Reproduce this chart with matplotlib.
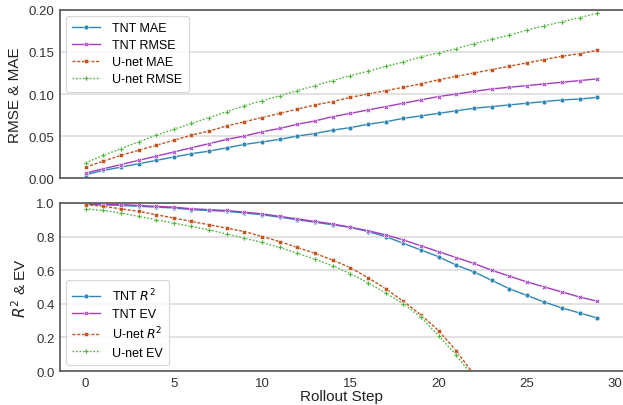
import matplotlib
matplotlib.use("Agg")
import matplotlib.pyplot as plt
import numpy as np

plt.rcParams['font.family'] = ['Liberation Sans', 'DejaVu Sans']
plt.rcParams['mathtext.fontset'] = 'dejavusans'

steps = list(range(30))

tnt_mae = [0.004, 0.009, 0.013, 0.017, 0.021, 0.025, 0.029, 0.032, 0.036, 0.040,
           0.043, 0.046, 0.050, 0.053, 0.057, 0.060, 0.064, 0.067, 0.071, 0.074,
           0.077, 0.080, 0.083, 0.085, 0.087, 0.089, 0.091, 0.093, 0.094, 0.096]
tnt_rmse = [0.006, 0.011, 0.016, 0.021, 0.026, 0.031, 0.036, 0.041, 0.046, 0.050,
            0.055, 0.059, 0.064, 0.068, 0.073, 0.077, 0.081, 0.085, 0.089, 0.093,
            0.097, 0.100, 0.103, 0.106, 0.108, 0.110, 0.112, 0.114, 0.116, 0.118]
unet_mae = [0.013, 0.020, 0.027, 0.033, 0.039, 0.045, 0.051, 0.056, 0.062, 0.067,
            0.072, 0.077, 0.082, 0.087, 0.091, 0.096, 0.100, 0.104, 0.108, 0.112,
            0.117, 0.121, 0.125, 0.129, 0.133, 0.137, 0.141, 0.145, 0.148, 0.152]
unet_rmse = [0.018, 0.027, 0.035, 0.043, 0.051, 0.058, 0.065, 0.072, 0.079, 0.086,
             0.092, 0.098, 0.104, 0.110, 0.116, 0.122, 0.127, 0.133, 0.138, 0.144,
             0.149, 0.154, 0.160, 0.165, 0.170, 0.176, 0.181, 0.186, 0.191, 0.196]

tnt_r2 = [0.99, 0.99, 0.985, 0.98, 0.975, 0.97, 0.96, 0.955, 0.95, 0.94,
          0.93, 0.915, 0.90, 0.885, 0.87, 0.855, 0.83, 0.80, 0.76, 0.72,
          0.68, 0.63, 0.59, 0.54, 0.49, 0.45, 0.41, 0.375, 0.345, 0.315]
tnt_ev = [0.995, 0.99, 0.99, 0.985, 0.98, 0.975, 0.965, 0.96, 0.955, 0.945,
          0.935, 0.92, 0.905, 0.89, 0.875, 0.855, 0.835, 0.81, 0.78, 0.745,
          0.71, 0.675, 0.64, 0.60, 0.565, 0.53, 0.50, 0.47, 0.44, 0.415]
unet_r2 = [0.99, 0.98, 0.965, 0.95, 0.93, 0.91, 0.89, 0.87, 0.85, 0.83,
           0.80, 0.77, 0.735, 0.70, 0.66, 0.615, 0.555, 0.49, 0.415, 0.335,
           0.24, 0.12, -0.02, -0.18, -0.36, -0.56, -0.78, -1.02, -1.28, -1.56]
unet_ev = [0.965, 0.955, 0.94, 0.92, 0.90, 0.88, 0.86, 0.84, 0.815, 0.79,
           0.765, 0.735, 0.70, 0.665, 0.625, 0.58, 0.525, 0.465, 0.40, 0.32,
           0.21, 0.095, -0.04, -0.20, -0.38, -0.58, -0.80, -1.04, -1.30, -1.58]

c_blue = '#2f86b4'
c_purple = '#a23cc0'
c_brown = '#c1531f'
c_green = '#4fb33c'

fig = plt.figure(figsize=(6.23, 4.06), dpi=100)
ax1 = fig.add_axes([0.0963, 0.559, 0.9037, 0.414])
ax2 = fig.add_axes([0.0963, 0.0837, 0.9037, 0.414])

spine_c = '#555555'
grid_c = '#dddddd'
tick_c = '#333333'

def style(ax):
    for s in ax.spines.values():
        s.set_color(spine_c)
        s.set_linewidth(1.2)
    ax.spines['right'].set_visible(False)
    ax.grid(axis='y', color=grid_c, linewidth=1.2)
    ax.set_axisbelow(True)
    ax.tick_params(length=0, labelsize=9.5, colors=tick_c, pad=4)
    ax.set_xlim(-1.45, 30.45)

kw = dict(markeredgecolor='white', markeredgewidth=0.4, markersize=3.5, linewidth=1.0)
ls_mae = (0, (2.2, 1.2))
ls_rmse = (0, (1.2, 1.3))

ax1.plot(steps, tnt_mae, color=c_blue, marker='o', linestyle='-', label='TNT MAE', **kw)
ax1.plot(steps, tnt_rmse, color=c_purple, marker='X', linestyle='-', label='TNT RMSE', **kw)
ax1.plot(steps, unet_mae, color=c_brown, marker='s', linestyle=ls_mae, label='U-net MAE', **kw)
ax1.plot(steps, unet_rmse, color=c_green, marker='P', linestyle=ls_rmse, label='U-net RMSE', **kw)
style(ax1)
ax1.set_ylim(0, 0.20)
ax1.set_yticks([0.0, 0.05, 0.10, 0.15, 0.20])
ax1.set_yticklabels(['0.00', '0.05', '0.10', '0.15', '0.20'])
ax1.set_xticks([0, 5, 10, 15, 20, 25, 30])
ax1.tick_params(axis='x', labelbottom=False)
ax1.set_ylabel('RMSE & MAE', fontsize=11, color='#222222', labelpad=5)
leg1 = ax1.legend(loc='upper left', fontsize=9, frameon=True, borderpad=0.5,
                  handlelength=2.2, labelspacing=0.4, handletextpad=1.0)
leg1.get_frame().set_edgecolor('#cccccc')
leg1.get_frame().set_linewidth(0.8)

ax2.plot(steps, tnt_r2, color=c_blue, marker='o', linestyle='-', label='TNT $R^2$', **kw)
ax2.plot(steps, tnt_ev, color=c_purple, marker='X', linestyle='-', label='TNT EV', **kw)
ax2.plot(steps, unet_r2, color=c_brown, marker='s', linestyle=ls_mae, label='U-net $R^2$', **kw)
ax2.plot(steps, unet_ev, color=c_green, marker='P', linestyle=ls_rmse, label='U-net EV', **kw)
style(ax2)
ax2.set_ylim(0, 1.0)
ax2.set_yticks([0.0, 0.2, 0.4, 0.6, 0.8, 1.0])
ax2.set_xticks([0, 5, 10, 15, 20, 25, 30])
ax2.set_ylabel('$R^2$ & EV', fontsize=11, color='#222222', labelpad=5)
ax2.set_xlabel('Rollout Step', fontsize=11, color='#222222', labelpad=0)
leg2 = ax2.legend(loc='lower left', fontsize=9, frameon=True, borderpad=0.5,
                  handlelength=2.2, labelspacing=0.4, handletextpad=1.0)
leg2.get_frame().set_edgecolor('#cccccc')
leg2.get_frame().set_linewidth(0.8)

fig.savefig('out.png', dpi=100)
